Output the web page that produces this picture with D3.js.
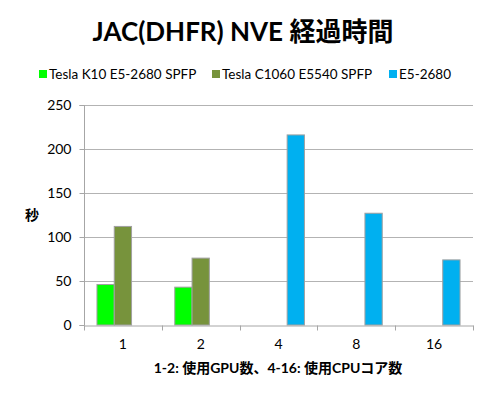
<!DOCTYPE html>
<html><head><meta charset="utf-8">
<script src="https://cdn.jsdelivr.net/npm/d3@7"></script>
<style>
body{margin:0;background:#fff;}
text{font-family:Lato,"Noto Sans CJK JP",sans-serif;}
</style></head><body>
<svg id="c" width="489" height="399"></svg>
<script>
const categories = ["1","2","4","8","16"];
const seriesNames = ["Tesla K10 E5-2680 SPFP","Tesla C1060 E5540 SPFP","E5-2680"];
const k10 = [46, 43, null, null, null];
const c1060 = [112, 76, null, null, null];
const e5 = [null, null, 216, 127, 74];
const yTicks = [0,50,100,150,200,250];
const colors = ["#00ff00","#77933c","#00b0f0"];
const title = "JAC(DHFR) NVE 経過時間";
const yTitle = "秒";
const xTitle = "1-2: 使用GPU数、4-16: 使用CPUコア数";

const svg = d3.select("#c");
const m = {l:84, r:473, t:105, b:325};
const x = d3.scaleBand().domain(categories).range([m.l, m.r]).paddingInner(0).paddingOuter(0);
const y = d3.scaleLinear().domain([0,250]).range([m.b, m.t]);
const x1 = d3.scaleBand().domain([0,1,2]).range([0, x.bandwidth()]).paddingInner(0).paddingOuter(0.75);

svg.append("text").attr("x",243).attr("y",41).attr("text-anchor","middle")
  .attr("font-size",26).attr("font-weight","bold").text(title);

// gridlines
svg.append("g").selectAll("line").data(yTicks.slice(1)).join("line")
  .attr("x1",m.l).attr("x2",m.r).attr("y1",d=>y(d)+0.5).attr("y2",d=>y(d)+0.5)
  .attr("stroke","#b3b3b3").attr("stroke-width",1);

// y axis
const ya = svg.append("g").attr("transform",`translate(${m.l+0.5},0)`)
  .call(d3.axisLeft(y).tickValues(yTicks).tickSize(5).tickPadding(8));
ya.select(".domain").attr("stroke","#a6a6a6").attr("d",`M-5,${y(0)+0.5}H0V${y(250)+0.5}H-5`);
ya.selectAll(".tick line").attr("stroke","#a6a6a6");
ya.selectAll(".tick text").attr("font-size",14).attr("fill","#000").attr("font-family","Lato,sans-serif");

// x axis
const xa = svg.append("g").attr("transform",`translate(0,${m.b+0.5})`)
  .call(d3.axisBottom(x).tickSize(0).tickPadding(14));
xa.select(".domain").attr("stroke","#a6a6a6");
xa.selectAll(".tick text").attr("font-size",14).attr("fill","#000").attr("font-family","Lato,sans-serif");
const bounds = categories.map(c=>x(c)).concat([m.r]);
xa.selectAll(".sep").data(bounds).join("line").attr("class","sep")
  .attr("x1",d=>Math.round(d)+0.5).attr("x2",d=>Math.round(d)+0.5).attr("y1",0).attr("y2",5)
  .attr("stroke","#a6a6a6");

// bars
const series = [k10, c1060, e5];
series.forEach((vals,si)=>{
  svg.append("g").selectAll("rect").data(categories.map((c,i)=>({c,v:vals[i]})).filter(d=>d.v!=null))
    .join("rect")
    .attr("x",d=>x(d.c)+x1(si))
    .attr("width",x1.bandwidth())
    .attr("y",d=>y(d.v))
    .attr("height",d=>y(0)-y(d.v))
    .attr("fill",colors[si]).attr("stroke","#a0a0a0").attr("stroke-width",1);
});

// titles
svg.append("text").attr("x",32).attr("y",220).attr("text-anchor","middle")
  .attr("font-size",14).attr("font-weight","bold").text(yTitle);
svg.append("text").attr("x",278).attr("y",373).attr("text-anchor","middle")
  .attr("font-size",14).attr("font-weight","bold").text(xTitle);

// legend
const legX = [39, 212, 389];
const lg = svg.append("g");
seriesNames.forEach((n,i)=>{
  lg.append("rect").attr("x",legX[i]).attr("y",70).attr("width",8).attr("height",8).attr("fill",colors[i]);
  lg.append("text").attr("x",legX[i]+10).attr("y",79).attr("font-size",13.5).text(n);
});
</script></body></html>
